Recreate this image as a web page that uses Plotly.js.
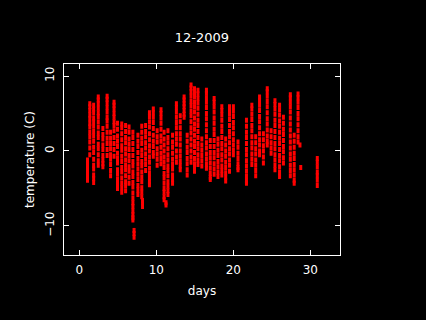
<!DOCTYPE html>
<html>
<head>
<meta charset="utf-8">
<script src="https://cdn.plot.ly/plotly-3.0.1.min.js"></script>
<style>html,body{margin:0;padding:0;background:#000;}#chart{width:426px;height:320px;}</style>
</head>
<body>
<div id="chart"></div>
<script>
// Each row: [day, temperature readings (C) seen in that column of the plot...]
const week1 = [
  [1.05, -1.2,-1.7,-2.1,-2.6,-3.2,-3.5,-3.9],
  [1.35, 6.3,5.9,5.4,4.8,4.3,3.7,3.2,2.5,1.9,1.2,0.4,-0.5],
  [1.85, 6.1,5.6,5.1,4.4,3.9,3.3,2.6,2.0,1.3,0.5,-0.2,-1.1,-1.9,-2.4,-3.2,-3.7,-4.2],
  [2.45, 7.2,6.8,6.3,5.7,5.1,4.6,3.9,3.2,2.4,1.8,0.9,0.3,-0.5,-1.3,-1.9],
  [3.05, 3.0,2.2,1.6,0.8,0.2,-0.6,-1.2,-1.7,-2.1],
  [3.6, 7.3,6.9,6.4,5.8,5.2,4.5,4.0,3.3,2.5,1.7,1.0,0.2,-0.6],
  [4.05, 2.5,1.7,1.0,0.3,-0.5,-1.1,-1.8,-2.6,-3.3],
  [4.5, 6.5,6.1,5.6,5.0,4.5,3.9,3.4,2.7,1.8,1.0,0.2,-0.7],
  [4.95, 3.7,2.9,2.0,1.3,0.6,-0.3,-1.0,-1.6,-2.5,-3.1,-3.8,-4.4,-5.0],
  [5.5, 3.6,3.1,2.3,1.5,0.7,0.1,-0.7,-1.4,-2.2,-2.8,-3.6,-4.3,-4.9,-5.5],
  [6.0, 3.4,2.6,1.8,1.1,0.3,-0.4,-1.2,-1.9,-2.5,-3.3,-4.1,-4.6,-5.3],
  [6.45, 3.2,2.5,1.6,0.9,0.2,-0.6,-1.3,-2.1,-2.7,-3.5,-4.3],
  [6.95, 2.5,1.8,1.0,0.2,-0.6,-1.4,-2.0,-2.8,-3.4,-4.2,-4.8,-5.6,-6.3,-6.9,-7.4,-8.0,-8.5,-8.9,-9.2],
  [7.1, -10.6,-11.0,-11.5]
];
const week2 = [
  [7.6, 2.1,1.3,0.6,-0.2,-1.0,-1.7,-2.4,-3.1,-3.8,-4.6,-5.2,-5.8],
  [8.1, 3.3,2.5,1.7,1.0,0.1,-0.6,-1.4,-2.0,-2.8,-3.5,-4.1,-4.9,-5.5,-6.1],
  [8.2, -6.6,-6.9,-7.4],
  [8.6, 3.4,2.6,1.9,1.1,0.4,-0.4,-1.1,-1.8,-2.6],
  [9.1, 5.1,4.6,3.9,3.2,2.3,1.5,0.7,0.0,-0.8,-1.5,-2.3,-3.0,-3.6,-4.1,-4.5],
  [9.6, 5.6,5.1,4.5,3.8,3.0,2.1,1.3,0.6,-0.2,-0.7],
  [10.1, 2.7,1.9,1.2,0.3,-0.4,-1.1,-1.9],
  [10.6, 5.5,5.0,4.4,3.7,2.9,2.0,1.3,0.5,-0.3,-1.0,-1.7],
  [11.0, 2.5,1.6,0.8,0.0,-0.8,-1.5,-2.2,-3.0,-3.6,-4.3,-5.0,-5.5,-6.1,-6.5],
  [11.25, -6.9,-7.2],
  [11.5, 2.7,1.8,1.1,0.3,-0.5,-1.2,-2.0,-2.6,-3.3,-4.1,-4.7,-5.3,-5.8],
  [12.1, 2.1,1.2,0.5,-0.3,-1.1,-1.8,-2.4,-3.2,-3.8,-4.3],
  [12.6, 6.3,5.8,5.2,4.5,3.8,3.1,2.3,1.6,0.9,0.0,-0.8,-1.5],
  [13.1, 4.7,3.9,3.1,2.3,1.6,0.8,0.0,-0.7,-1.4,-2.0,-2.5],
  [13.6, 7.2,6.8,6.3,5.9,5.4,4.9,4.5],
  [14.0, 2.1,1.3,0.5,-0.2,-1.0,-1.7,-2.5,-3.2]
];
const week3 = [
  [14.5, 8.8,8.4,7.9,7.3,6.6,6.0,5.3,4.7,3.9,3.1,2.4,1.6,0.8,0.0,-0.8,-1.5],
  [14.95, 8.3,7.8,7.2,6.5,5.9,5.2,4.4,3.6,2.9,2.1,1.3,0.6,-0.2,-1.0,-1.7,-2.3,-2.7],
  [15.4, 8.1,7.6,7.0,6.4,5.7,4.9,4.1,3.4,2.6,1.8,1.0,0.3,-0.5,-1.2,-1.8],
  [15.9, 1.6,0.8,0.1,-0.6,-1.3,-2.0],
  [16.5, 8.1,7.7,7.1,6.5,5.8,5.0,4.3,3.5,2.7,1.9,1.1,0.4,-0.4,-1.1,-1.8,-2.3],
  [17.0, 1.4,0.6,-0.2,-0.9,-1.6,-2.3,-3.0,-3.5,-3.8],
  [17.5, 7.0,6.5,5.9,5.2,4.4,3.7,2.9,2.2,1.4,0.6,-0.2,-0.9,-1.7,-2.4,-3.1],
  [18.0, 1.6,0.9,0.1,-0.6,-1.4,-2.1,-2.8,-3.4],
  [18.5, 5.9,5.4,4.8,4.1,3.3,2.6,1.8,1.0,0.3,-0.5,-1.2,-2.0,-2.6,-3.2],
  [19.0, 1.6,0.8,0.0,-0.7,-1.5,-2.2,-2.9,-3.5,-4.0],
  [19.5, 5.9,5.5,4.9,4.2,3.4,2.6,1.9,1.1,0.3,-0.4,-1.2,-1.9,-2.7],
  [20.0, 5.9,5.3,4.6,3.8,3.1,2.3,1.5,0.8,0.1,-0.5],
  [20.6, 1.2,0.5,-0.3,-1.0,-1.7,-2.2,-2.5]
];
const week4 = [
  [21.7, 4.1,3.3,2.5,1.8,1.0,0.2,-0.5,-1.3,-2.0,-2.7,-3.4,-4.0,-4.3],
  [22.4, 6.1,5.6,4.9,4.2,3.4,2.7,1.9,1.1,0.4,-0.4,-1.1,-1.8],
  [22.9, 1.9,1.1,0.3,-0.4,-1.2,-1.9,-2.6,-3.3],
  [23.4, 7.2,6.7,6.1,5.4,4.6,3.9,3.1,2.3,1.5,0.8,0.0,-0.5],
  [23.9, 2.3,1.5,0.7,0.0,-0.8,-1.6],
  [24.4, 8.3,7.9,7.3,6.6,5.9,5.1,4.3,3.6,2.8,2.0,1.3,0.8],
  [24.9, 2.7,1.9,1.1,0.4,-0.3],
  [25.4, 6.7,6.2,5.6,4.9,4.1,3.4,2.6,1.8,1.0,0.3,-0.5,-1.2,-1.9,-2.5],
  [26.0, 6.1,5.5,4.8,4.0,3.3,2.5,1.7,1.0,0.2,-0.6,-1.3,-2.1,-2.8,-3.4],
  [26.5, 4.5,3.7,2.9,2.2,1.4,0.6,-0.1,-0.9,-1.6],
  [27.4, 7.5,7.1,6.5,5.9,5.2,4.4,3.6,2.8,2.0,1.2,0.4,-0.4,-1.1,-1.9,-2.6,-3.3],
  [27.9, 2.1,1.3,0.5,-0.3,-1.0,-1.8,-2.5,-3.2,-3.9,-4.3],
  [28.4, 7.6,7.1,6.5,5.8,5.0,4.3,3.5,2.7,1.9,1.2],
  [28.65, 0.8],
  [28.75, -2.2]
];
const week5 = [
  [30.9, -1.0,-1.5,-2.1,-2.8,-3.3,-3.9,-4.6]
];

const xTicks = [0, 10, 20, 30];
const yTicks = [-10, 0, 10];

const days = [], temps = [];
[week1, week2, week3, week4, week5].forEach(w => w.forEach(row => {
  for (let i = 1; i < row.length; i++) { days.push(row[0]); temps.push(row[i]); }
}));

const font = {family: 'DejaVu Sans, sans-serif', size: 12, color: '#ffffff'};

Plotly.newPlot('chart', [{
  type: 'scatter', mode: 'markers', x: days, y: temps,
  marker: {symbol: 'line-ns', size: 3.6, color: '#ff0000', line: {width: 3, color: '#ff0000'}},
  hoverinfo: 'skip'
}], {
  width: 426, height: 320,
  paper_bgcolor: '#000000', plot_bgcolor: '#000000',
  margin: {l: 64, r: 86, t: 64, b: 65},
  font: font,
  showlegend: false,
  title: {text: '12-2009', font: {family: font.family, size: 13, color: '#ffffff'},
          x: 0.5, xref: 'paper', y: 1 - 37/320, yref: 'container', yanchor: 'middle'},
  xaxis: {
    range: [-2.0, 33.85], tickvals: xTicks, ticktext: xTicks.map(String),
    ticks: 'inside', ticklen: 5, tickcolor: '#ffffff', tickwidth: 1,
    showline: true, linecolor: '#ffffff', linewidth: 1, mirror: 'ticks',
    showgrid: false, zeroline: false, ticklabelstandoff: 4,
    tickfont: {family: font.family, size: 12, color: '#ffffff'},
    title: {text: 'days', font: {family: font.family, size: 12, color: '#ffffff'}, standoff: 10}
  },
  yaxis: {
    range: [-13.87, 11.6], tickvals: yTicks, ticktext: yTicks.map(v => v < 0 ? '\u2212' + Math.abs(v) : String(v)),
    ticks: 'inside', ticklen: 5, tickcolor: '#ffffff', tickwidth: 1, tickangle: -90,
    showline: true, linecolor: '#ffffff', linewidth: 1, mirror: 'ticks',
    showgrid: false, zeroline: false, ticklabelstandoff: 4,
    tickfont: {family: font.family, size: 12, color: '#ffffff'},
    title: {text: 'temperature (C)', font: {family: font.family, size: 12, color: '#ffffff'}, standoff: 6}
  }
}, {displayModeBar: false, staticPlot: true});
</script>
</body>
</html>
